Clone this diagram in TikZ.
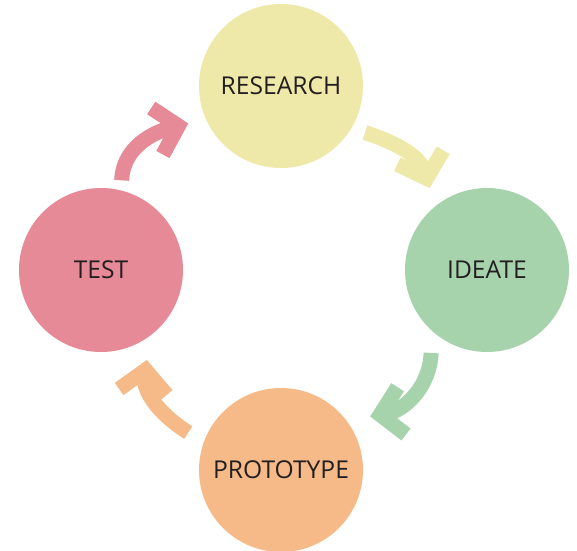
\documentclass[tikz,border=0pt]{standalone}
\usepackage{fontspec}
\setmainfont{Open Sans}
\usepackage{tikz}
\usetikzlibrary{arrows.meta, calc}
\definecolor{researchc}{HTML}{EEE8A9}
\definecolor{ideatec}{HTML}{A6D3AB}
\definecolor{prototypec}{HTML}{F5BA88}
\definecolor{testc}{HTML}{E78A97}
\definecolor{textc}{HTML}{231F20}
\tikzstyle{phase} = [circle, minimum size=4.92cm, inner sep=0pt, text=textc, font=\fontsize{21}{25}\selectfont]
\tikzstyle{arrow} = [line width=0.45cm, -{Straight Barb[length=0.66cm, width=1.44cm, sharp]}]

\begin{document}
\begin{tikzpicture}[x=0.03cm, y=0.03cm]
	\useasboundingbox (0,0) rectangle (577,-551);
	% las cuatro fases
	\foreach \Xc/\Yc/\Nombre/\Col/\Texto in
	{281/86/research/researchc/RESEARCH,
	 487/270/ideate/ideatec/IDEATE,
	 281/470/prototype/prototypec/PROTOTYPE,
	 101/270/test/testc/TEST}
	{
		\node[phase, fill=\Col] (\Nombre) at (\Xc,-\Yc) {\Texto};
	}
	% flechas entre fases
	\foreach \De/\Da/\Dr/\Sal/\Ent/\A/\Aa/\Ar/\Col in
	{research/-29/96/-18/107/ideate/125/100/researchc,
	 ideate/-124/100/-92/10/prototype/31/104/ideatec,
	 prototype/158/100/148/-97/test/-63/101/prototypec,
	 test/77/92/88/194/research/202/100/testc}
	{
		\draw[arrow, \Col] ($(\De)+(\Da:\Dr)$) to[out=\Sal, in=\Ent] ($(\A)+(\Aa:\Ar)$);
	}
\end{tikzpicture}
\end{document}
